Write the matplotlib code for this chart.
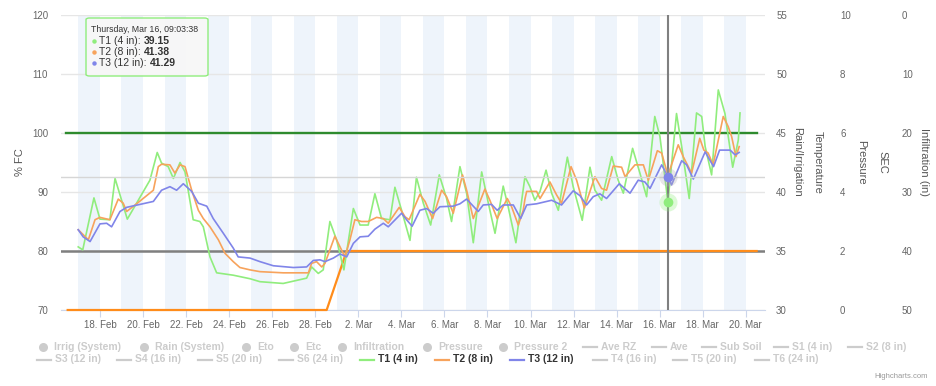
import numpy as np
import matplotlib
matplotlib.use('Agg')
import matplotlib.pyplot as plt
from matplotlib.lines import Line2D
from matplotlib.patches import FancyBboxPatch

plt.rcParams['font.family'] = ['Liberation Sans', 'DejaVu Sans']

# time axis: days since 18 Feb 2017 00:00
t1_days = [-1.01, -0.80, -0.28, 0.00, 0.46, 0.70, 1.27, 2.32, 2.66, 2.86, 3.17, 3.41, 3.72, 3.95,
           4.33, 4.64, 4.80, 5.11, 5.42, 6.19, 6.97, 7.43, 8.51, 9.60, 9.83, 10.14, 10.37, 10.68,
           10.99, 11.33, 11.77, 12.08, 12.46, 12.77, 13.08, 13.47, 13.70, 14.01, 14.40, 14.70,
           15.02, 15.36, 15.76, 16.10, 16.33, 16.72, 17.03, 17.34, 17.73, 18.04, 18.35, 18.73,
           18.96, 19.32, 19.74, 19.97, 20.20, 20.44, 20.72, 20.98, 21.29, 21.71, 21.98, 22.40,
           22.76, 22.99, 23.30, 23.77, 24.07, 24.31, 24.74, 25.08, 25.39, 25.77, 26.01, 26.38,
           26.78, 27.02, 27.37, 27.71, 27.95, 28.11, 28.41, 28.72, 29.03, 29.39, 29.65, 29.73]
t1_vals = [80.7, 80.2, 89.0, 85.4, 85.3, 92.3, 85.4, 92.0, 96.7, 94.9, 94.3, 92.3, 95.0, 93.4,
           85.3, 85.0, 84.1, 79.0, 76.3, 75.9, 75.3, 74.8, 74.5, 75.4, 77.3, 76.2, 76.8, 85.0,
           81.9, 76.8, 87.2, 84.4, 84.4, 89.7, 85.5, 85.3, 90.8, 86.9, 81.8, 92.5,
           88.1, 84.4, 92.9, 88.9, 85.0, 94.3, 89.8, 81.4, 93.4, 88.1, 83.0, 91.0,
           87.5, 81.4, 92.6, 90.9, 88.6, 90.1, 93.7, 89.8, 86.9, 95.9, 90.9, 85.2,
           94.2, 90.3, 88.6, 96.0, 92.0, 89.8, 97.4, 93.2, 89.2, 102.8, 99.4, 88.3,
           103.3, 97.7, 88.9, 103.4, 102.8, 97.7, 92.9, 107.3, 103.3, 94.2, 98.8, 103.4]

t2_days = [-1.01, -0.54, -0.23, 0.00, 0.46, 0.85, 1.08, 1.24, 1.70, 2.48, 2.71, 2.86, 3.25, 3.48,
           3.72, 3.95, 4.26, 4.57, 4.80, 5.11, 5.50, 5.81, 6.19, 6.50, 6.97, 7.43, 8.51, 9.68,
           9.83, 10.06, 10.30, 10.45, 10.91, 11.15, 11.38, 11.61, 11.84, 12.15, 12.46, 12.85,
           13.16, 13.39, 13.90, 14.17, 14.36, 14.86, 15.10, 15.45, 15.87, 16.10, 16.41, 16.84,
           17.03, 17.34, 17.88, 18.11, 18.45, 18.92, 19.12, 19.43, 19.66, 19.74, 19.82, 20.28,
           20.44, 20.90, 21.21, 21.44, 21.88, 22.14, 22.50, 22.99, 23.30, 23.53, 23.84, 24.23,
           24.39, 24.85, 25.24, 25.47, 25.89, 26.09, 26.38, 26.86, 27.09, 27.48, 27.86, 28.05,
           28.25, 28.48, 28.95, 29.18, 29.34, 29.54, 29.69]
t2_vals = [83.6, 81.9, 85.3, 85.7, 85.3, 88.8, 88.1, 86.7, 88.0, 90.3, 94.3, 94.7, 94.6, 93.2,
           94.6, 94.3, 90.3, 86.9, 85.5, 84.1, 81.9, 79.6, 78.2, 77.2, 76.8, 76.5, 76.3, 76.3,
           77.9, 78.2, 77.3, 77.9, 82.5, 80.7, 79.0, 81.9, 85.3, 85.0, 85.0, 85.7,
           85.5, 84.7, 87.4, 85.8, 85.3, 89.6, 88.4, 85.5, 90.3, 89.2, 86.4, 92.9,
           90.3, 85.5, 90.5, 88.6, 85.5, 88.9, 87.5, 84.4, 86.9, 88.8, 90.1, 90.1,
           88.9, 91.7, 89.5, 88.1, 94.3, 92.0, 87.3, 92.6, 90.6, 90.3, 94.4, 94.2,
           92.6, 94.6, 94.6, 92.0, 97.0, 96.6, 92.8, 98.0, 96.0, 93.2, 99.1, 97.1,
           96.6, 94.6, 102.8, 101.1, 99.4, 96.0, 97.7]

t3_days = [-1.01, -0.78, -0.46, 0.00, 0.31, 0.54, 0.93, 1.24, 2.48, 2.86, 3.25, 3.56, 3.87, 4.26,
           4.57, 4.96, 5.26, 5.73, 6.19, 6.42, 6.97, 7.43, 8.05, 8.98, 9.60, 9.91, 10.22, 10.45,
           10.84, 11.15, 11.46, 11.77, 12.08, 12.46, 12.77, 13.16, 13.39, 14.01, 14.24, 14.50,
           14.86, 15.17, 15.48, 15.79, 16.41, 16.72, 17.03, 17.57, 17.80, 18.19, 18.45, 18.73,
           19.20, 19.54, 19.82, 20.28, 20.98, 21.44, 21.98, 22.29, 22.60, 22.91, 23.22, 23.53,
           24.12, 24.62, 25.00, 25.31, 25.55, 26.09, 26.38, 26.55, 27.02, 27.25, 27.56, 28.11,
           28.50, 28.78, 29.27, 29.50, 29.69]
t3_vals = [83.6, 82.4, 81.6, 84.6, 84.7, 84.1, 86.7, 87.4, 88.4, 90.3, 90.9, 90.3, 91.4, 90.1,
           88.1, 87.6, 85.5, 83.0, 80.5, 79.0, 78.8, 78.2, 77.5, 77.2, 77.3, 78.4, 78.5, 78.2,
           78.8, 79.5, 79.0, 81.3, 82.4, 82.5, 83.7, 84.7, 84.1, 86.4, 85.3, 84.2,
           86.9, 87.2, 86.4, 87.5, 87.6, 88.0, 88.8, 86.7, 87.8, 87.9, 86.9, 87.8,
           87.8, 85.5, 87.8, 88.0, 88.6, 87.8, 90.2, 89.4, 87.8, 89.2, 89.7, 88.9,
           91.4, 89.8, 92.0, 91.7, 90.6, 94.6, 92.6, 91.2, 95.3, 94.6, 92.2, 96.8,
           94.3, 97.1, 97.1, 96.3, 96.7]

# threshold lines (% FC)
full_days = [-1.6, 30.5]
full_vals = [100, 100]
refill_days = [-1.5, 10.53, 11.46, 30.5]
refill_vals = [70, 70, 80, 80]
stress_level = 80

# tooltip / hovered point (values on the Rain/Irrigation scale)
hover_day = 26.38
hover_title = 'Thursday, Mar 16, 09:03:38'
hover_names = ['T1 (4 in)', 'T2 (8 in)', 'T3 (12 in)']
hover_vals = [39.15, 41.38, 41.29]

tick_days = list(range(0, 31, 2))
tick_labels = ['18. Feb', '20. Feb', '22. Feb', '24. Feb', '26. Feb', '28. Feb', '2. Mar',
               '4. Mar', '6. Mar', '8. Mar', '10. Mar', '12. Mar', '14. Mar', '16. Mar',
               '18. Mar', '20. Mar']

legend_row1 = ['Irrig (System)', 'Rain (System)', 'Eto', 'Etc', 'Infiltration', 'Pressure',
               'Pressure 2', 'Ave RZ', 'Ave', 'Sub Soil', 'S1 (4 in)', 'S2 (8 in)']
legend_row2 = ['S3 (12 in)', 'S4 (16 in)', 'S5 (20 in)', 'S6 (24 in)', 'T1 (4 in)', 'T2 (8 in)',
               'T3 (12 in)', 'T4 (16 in)', 'T5 (20 in)', 'T6 (24 in)']
dot_items = ['Irrig (System)', 'Rain (System)', 'Eto', 'Etc', 'Infiltration', 'Pressure', 'Pressure 2']

colors = {'T1 (4 in)': '#90ed7d', 'T2 (8 in)': '#f7a35c', 'T3 (12 in)': '#8085e9'}

W, H = 936, 386
fig = plt.figure(figsize=(W / 100, H / 100), dpi=100)


def fx(x):
    return x / W


def fy(y):
    return 1 - y / H


ax = fig.add_axes([fx(61), fy(310), (765 - 61) / W, (310 - 15) / H])

# alternating day bands
for d in range(-1, 30, 2):
    ax.axvspan(d, d + 1, color='#eef4fb', lw=0, zorder=0)

ax.axhline(stress_level, color='#7f7f7f', lw=1.8, zorder=2)
ax.plot(full_days, full_vals, color='#2e8b2e', lw=1.7, zorder=3)
ax.plot(refill_days, refill_vals, color='#ff8c1a', lw=1.6, zorder=3, clip_on=False)

ax.plot(t1_days, t1_vals, color=colors['T1 (4 in)'], lw=1.2, zorder=4)
ax.plot(t2_days, t2_vals, color=colors['T2 (8 in)'], lw=1.2, zorder=4)
ax.plot(t3_days, t3_vals, color=colors['T3 (12 in)'], lw=1.2, zorder=4)

ax.axvline(hover_day, color='#808080', lw=1.5, zorder=5)

ax.set_xlim(-1.81, 30.89)
ax.set_ylim(70, 120)
ax.set_yticks(range(70, 121, 10))
ax.grid(axis='y', color='#e6e6e6', lw=1)
ax.set_axisbelow(True)
ax.set_xticks(tick_days, tick_labels)
ax.tick_params(axis='x', length=5, color='#ccd6eb', labelsize=7, labelcolor='#666666', pad=2)
ax.tick_params(axis='y', length=0, labelsize=7, labelcolor='#666666', pad=9.4)
for s in ['top', 'right', 'left']:
    ax.spines[s].set_visible(False)
ax.spines['bottom'].set_color('#ccd6eb')

# right hand axes
ax_rain = ax.twinx()
ax_rain.set_ylim(30, 55)
ax_rain.set_yticks(range(30, 56, 5))
ax_rain.tick_params(axis='y', length=0, pad=8, labelsize=7, labelcolor='#666666')

ax_sec = ax.twinx()
ax_sec.set_ylim(0, 10)
ax_sec.set_yticks(range(0, 11, 2))
ax_sec.tick_params(axis='y', length=0, pad=54, labelsize=7, labelcolor='#666666')

ax_inf = ax.twinx()
ax_inf.set_ylim(50, 0)
ax_inf.set_yticks(range(0, 51, 10))
ax_inf.tick_params(axis='y', length=0, pad=98.6, labelsize=7, labelcolor='#666666')

for a in [ax_rain, ax_sec, ax_inf]:
    for s in a.spines.values():
        s.set_visible(False)

# hover crosshair + markers
ax_rain.axhline(hover_vals[2], color='#d6d6d6', lw=1, zorder=1)
for name, v in zip(hover_names, hover_vals):
    if name == 'T2 (8 in)':
        continue
    c = colors[name]
    halo = '#b0b0b0' if name == 'T3 (12 in)' else c
    ax_rain.plot(hover_day, v, 'o', ms=13, color=halo, alpha=0.3, mew=0, zorder=6)
    ax_rain.plot(hover_day, v, 'o', ms=7, color=c, mew=0, zorder=7)

# axis titles
tc = '#555555'
fig.text(fx(20), fy(162), '% FC', rotation=90, ha='center', va='center', fontsize=8, color=tc)
for x, label in [(797, 'Rain/Irrigation'), (818, 'Temperature'), (861, 'Pressure'),
                 (882, 'SEC'), (924, 'Infiltration (in)')]:
    fig.text(fx(x), fy(162), label, rotation=270, ha='center', va='center', fontsize=8, color=tc)

renderer = fig.canvas.get_renderer()

# tooltip
box = FancyBboxPatch((fx(86), fy(76)), (208 - 86) / W, (76 - 18) / H,
                     boxstyle='round,pad=0,rounding_size=0.004', transform=fig.transFigure,
                     fc=(0.969, 0.969, 0.969, 0.92), ec='#90ed7d', lw=1)
fig.add_artist(box)
fig.text(fx(91), fy(29), hover_title, fontsize=6.3, color='#333333', va='center')
for i, (name, v) in enumerate(zip(hover_names, hover_vals)):
    y = 41 + 11 * i
    fig.add_artist(Line2D([fx(94)], [fy(y)], marker='o', ms=3.2, color=colors[name], mew=0,
                          transform=fig.transFigure))
    t = fig.text(fx(99), fy(y), name + ': ', fontsize=7.5, color='#333333', va='center')
    w = t.get_window_extent(renderer).width
    fig.text(fx(99 + w), fy(y), f'{v:.2f}', fontsize=7.5, color='#333333', va='center',
             fontweight='bold')

# legend: two rows, item start positions in pixels
row1_x = [36, 137, 239, 287, 335, 420, 496, 583, 652, 702, 774, 848]
row2_x = [37, 117, 198, 279, 360, 435, 510, 593, 673, 755]
for row, xs, y in [(legend_row1, row1_x, 347), (legend_row2, row2_x, 359.5)]:
    for name, x in zip(row, xs):
        on = name in colors
        c = colors[name] if on else '#cccccc'
        if name in dot_items:
            fig.add_artist(Line2D([fx(x + 7)], [fy(y)], marker='o', ms=6.5, color=c, mew=0,
                                  transform=fig.transFigure))
        else:
            fig.add_artist(Line2D([fx(x), fx(x + 14)], [fy(y), fy(y)], color=c, lw=1.6,
                                  transform=fig.transFigure))
        fig.text(fx(x + 18), fy(y), name, fontsize=7.5, fontweight='bold',
                 color='#333333' if on else '#cccccc', va='center')

fig.text(fx(928), fy(376), 'Highcharts.com', ha='right', va='center', fontsize=5.5, color='#999999')

fig.savefig('out.png', dpi=100)
